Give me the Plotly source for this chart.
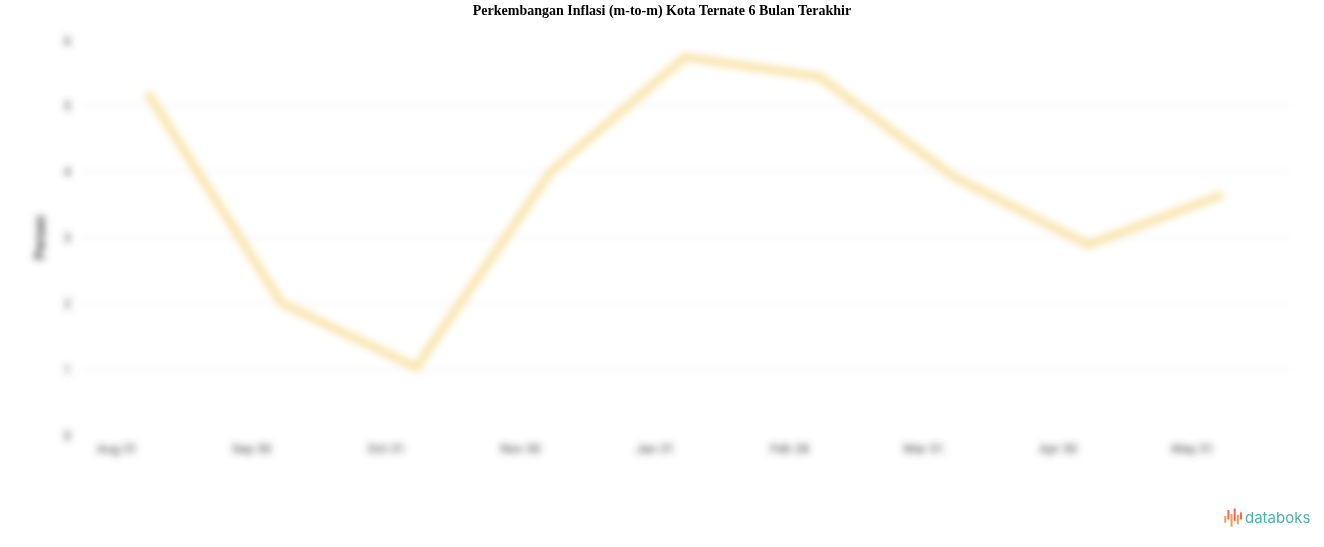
import plotly.graph_objects as go

# --- data ---
BULAN = ["Aug 31", "Sep 30", "Oct 31", "Nov 30", "Jan 31", "Feb 28", "Mar 31", "Apr 30", "May 31"]
INFLASI = [5.2, 2.0, 1.03, 4.0, 5.74, 5.44, 3.92, 2.89, 3.65]
Y_TICKS = [0, 1, 2, 3, 4, 5, 6]
Y_LABELS = ["0", "1", "2", "3", "4", "5", "6"]

TITLE = "Perkembangan Inflasi (m-to-m) Kota Ternate 6 Bulan Terakhir"

fig = go.Figure()
fig.add_trace(go.Scatter(
    x=list(range(len(BULAN))), y=INFLASI, mode="lines",
    line=dict(color="#fae6b2", width=9),
    hoverinfo="skip", showlegend=False,
))

fig.update_layout(
    width=1324, height=547,
    template="plotly_white", plot_bgcolor="white", paper_bgcolor="white",
    margin=dict(l=80, r=34, t=40, b=112),
    title=dict(text="<b>" + TITLE + "</b>", x=0.5, xanchor="center", y=0.991, yanchor="top",
               font=dict(family="Liberation Serif, Times New Roman, serif", size=14, color="black")),
    font=dict(family="Roboto, Arial, sans-serif", color="#555"),
)
fig.update_xaxes(
    tickmode="array", tickvals=list(range(len(BULAN))), ticktext=BULAN,
    range=[-0.5, len(BULAN) - 0.5], showgrid=False, zeroline=False, showline=False,
    tickfont=dict(size=13, color="#444"), ticks="", ticklabelshift=-30, ticklabelstandoff=4,
)
fig.update_yaxes(
    tickmode="array", tickvals=Y_TICKS, ticktext=Y_LABELS, range=[0, 6],
    showgrid=True, gridcolor="#e8e8e8", gridwidth=1, zeroline=False,
    tickfont=dict(size=13, color="#444"), ticklabelstandoff=8,
    title=dict(text="<b>Persen</b>", font=dict(size=14, color="#444"), standoff=14),
)

# databoks logo, bottom right
fig.add_annotation(x=1.0178, y=-0.21, xref="paper", yref="paper", xanchor="right", yanchor="middle",
                   text="databoks", showarrow=False,
                   font=dict(family="Inter, Roboto, sans-serif", size=15, color="#4bb3a8"))
ICON_BARS = [(-0.222, -0.205), (-0.214, -0.190), (-0.232, -0.200), (-0.218, -0.186), (-0.226, -0.202), (-0.214, -0.196)]
for i, (y0, y1) in enumerate(ICON_BARS):
    x0 = 0.9465 + i * 0.0026
    fig.add_shape(type="line", xref="paper", yref="paper", x0=x0, x1=x0,
                  y0=y0, y1=y1, line=dict(color="#ee6b4d" if i % 2 else "#f39a55", width=2))

# blur the plot content like the reference (title and logo stay sharp)
post = """
document.body.style.margin = '0';
var gd = document.getElementsByClassName('plotly-graph-div')[0];
function blurIt(){
  var svg = gd.querySelector('svg.main-svg');
  var ns = 'http://www.w3.org/2000/svg';
  var defs = svg.querySelector('defs');
  if (!document.getElementById('softblur')) {
    var f = document.createElementNS(ns, 'filter');
    f.setAttribute('id', 'softblur');
    f.setAttribute('filterUnits', 'userSpaceOnUse');
    f.setAttribute('x', '-50'); f.setAttribute('y', '-50');
    f.setAttribute('width', '1500'); f.setAttribute('height', '700');
    var g = document.createElementNS(ns, 'feGaussianBlur');
    g.setAttribute('stdDeviation', '3.5');
    f.appendChild(g); defs.appendChild(f);
  }
  gd.querySelectorAll('.cartesianlayer, .g-ytitle, .g-xtitle').forEach(function(e){
    e.setAttribute('filter', 'url(#softblur)');
  });
}
blurIt();
gd.on('plotly_afterplot', blurIt);
"""

fig.write_html("out.html", post_script=post, config={"displayModeBar": False})
